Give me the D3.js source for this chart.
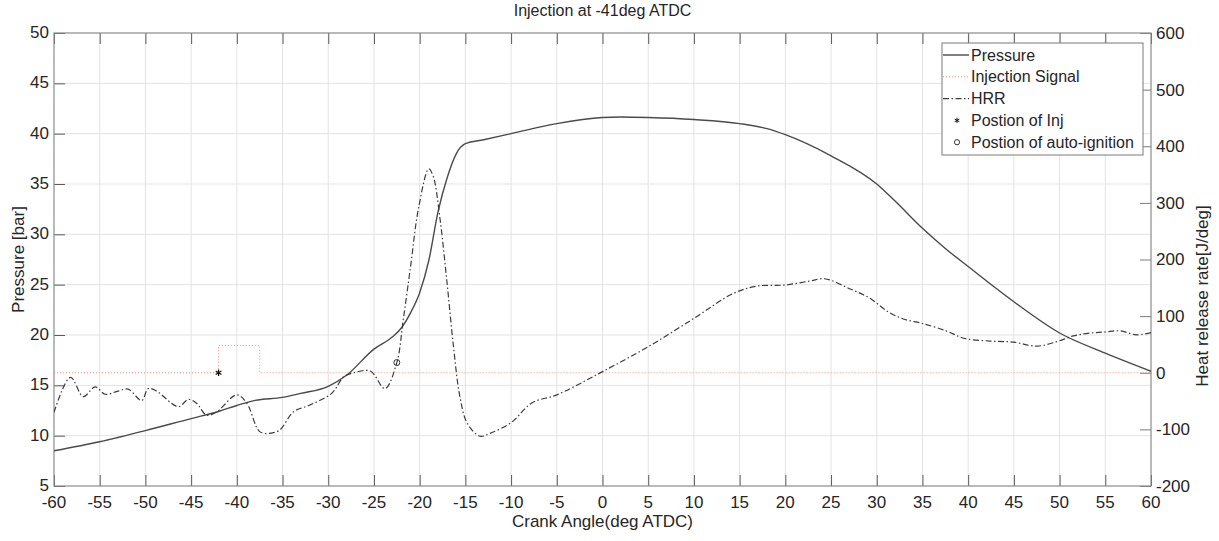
<!DOCTYPE html>
<html>
<head>
<meta charset="utf-8">
<script src="https://cdn.jsdelivr.net/npm/d3@7"></script>
<style>
  body { margin: 0; background: #fff; }
  text { font-family: "Liberation Sans", Arial, sans-serif; fill: #262626; }
</style>
</head>
<body>
<script>
// pressure trace [bar]
var pAngle = [-60, -55, -50, -45, -42, -40, -38, -35, -33, -30, -28, -25, -23, -22, -21, -20, -19, -18, -17, -16, -15, -13, -10, -5, 0, 2, 5, 10, 15, 18, 20, 25, 30, 32, 35, 37.5, 40, 45, 50, 55, 60];
var pressure = [8.5, 9.4, 10.5, 11.7, 12.4, 13.0, 13.5, 13.8, 14.2, 14.9, 16.0, 18.6, 19.8, 20.7, 22.2, 24.2, 27.4, 32.2, 35.6, 38.0, 39.0, 39.4, 40.0, 41.0, 41.6, 41.65, 41.6, 41.4, 41.0, 40.5, 39.9, 37.8, 35.0, 33.3, 30.6, 28.6, 26.8, 23.3, 20.2, 18.2, 16.4];

// heat release rate [J/deg]
var hrrAngle = [-60, -58.2, -56.8, -55.5, -54.4, -53.1, -51.9, -50.4, -49.7, -48.8, -46.4, -45.3, -44.4, -43.3, -42.2, -40, -38.9, -37.5, -36.4, -35.3, -33.8, -32, -29.6, -28.3, -27.2, -25.4, -23.8, -22.5, -21.8, -21, -20.1, -19, -18.5, -17.8, -17, -16.3, -15.6, -14.8, -13.4, -12.3, -10, -7.7, -5, 0, 5, 10, 14.3, 16.9, 20, 22.7, 24.3, 27.1, 29.3, 31.2, 32.9, 35, 37.6, 39.5, 42.4, 45, 47.5, 49.7, 51.5, 53.3, 55, 56.6, 58.4, 60];
var hrr = [-70, -8, -42, -25, -38, -33, -29, -49, -28, -32, -60, -47, -54, -75, -69, -39, -54, -104, -107, -101, -69, -57, -36, -7, 0, 3, -28, 18, 93, 187, 293, 360, 346, 275, 158, 46, -42, -89, -112, -107, -88, -53, -39, 2, 46, 96, 140, 153, 155, 162, 166, 148, 131, 108, 95, 87, 74, 61, 56, 54, 47, 55, 65, 70, 72, 74, 67, 71];

// injection signal (plotted on the HRR axis)
var injAngle = [-60, -42, -42, -37.5, -37.5, 60];
var injSignal = [0, 0, 48, 48, 0, 0];

// markers
var injPos = [-42, 0];
var ignPos = [-22.5, 18];

var xTicks = d3.range(-60, 61, 5);
var yTicks = d3.range(5, 51, 5);
var y2Ticks = d3.range(-200, 601, 100);
var legendNames = ["Pressure", "Injection Signal", "HRR", "Postion of Inj", "Postion of auto-ignition"];

const w = 1219, h = 541;
const pLeft = 54, pRight = 1151, pTop = 33, pBottom = 486;

const svg = d3.select("body").append("svg")
    .attr("width", w)
    .attr("height", h);

var xScale = d3.scaleLinear().domain([-60, 60]).range([pLeft, pRight]);
var yScale = d3.scaleLinear().domain([5, 50]).range([pBottom, pTop]);
var y2Scale = d3.scaleLinear().domain([-200, 600]).range([pBottom, pTop]);

// grid
svg.append("g").selectAll("line").data(xTicks.slice(1, -1)).enter().append("line")
    .attr("x1", d => xScale(d)).attr("x2", d => xScale(d))
    .attr("y1", pTop).attr("y2", pBottom)
    .attr("stroke", "#e3e3e3").attr("stroke-width", 1);
svg.append("g").selectAll("line").data(yTicks.slice(1, -1)).enter().append("line")
    .attr("y1", d => yScale(d)).attr("y2", d => yScale(d))
    .attr("x1", pLeft).attr("x2", pRight)
    .attr("stroke", "#e3e3e3").attr("stroke-width", 1);

// axes (inward ticks, MATLAB style)
var tk = 11;
svg.append("g").attr("transform", "translate(" + pLeft + ",0)")
    .call(d3.axisRight(yScale).tickValues(yTicks).tickSize(tk).tickFormat(""))
    .call(g => g.select(".domain").remove())
    .call(g => g.selectAll("line").attr("stroke", "#5a5a5a"));
svg.append("g").attr("transform", "translate(" + pRight + ",0)")
    .call(d3.axisLeft(y2Scale).tickValues(y2Ticks).tickSize(tk).tickFormat(""))
    .call(g => g.select(".domain").remove())
    .call(g => g.selectAll("line").attr("stroke", "#7a7a7a"));
svg.append("g").attr("transform", "translate(0," + pBottom + ")")
    .call(d3.axisTop(xScale).tickValues(xTicks).tickSize(tk).tickFormat(""))
    .call(g => g.select(".domain").remove())
    .call(g => g.selectAll("line").attr("stroke", "#5a5a5a"));
svg.append("g").attr("transform", "translate(0," + pTop + ")")
    .call(d3.axisBottom(xScale).tickValues(xTicks).tickSize(tk).tickFormat(""))
    .call(g => g.select(".domain").remove())
    .call(g => g.selectAll("line").attr("stroke", "#5a5a5a"));

// tick labels
svg.append("g").selectAll("text").data(yTicks).enter().append("text")
    .attr("x", pLeft - 5).attr("y", d => yScale(d)).attr("dy", "0.3em")
    .attr("text-anchor", "end").attr("font-size", 17).text(d => d);
svg.append("g").selectAll("text").data(y2Ticks).enter().append("text")
    .attr("x", pRight + 5).attr("y", d => y2Scale(d)).attr("dy", "0.35em")
    .attr("text-anchor", "start").attr("font-size", 17).text(d => d);
svg.append("g").selectAll("text").data(xTicks).enter().append("text")
    .attr("x", d => xScale(d)).attr("y", pBottom + 22)
    .attr("text-anchor", "middle").attr("font-size", 17).text(d => d);

// box
svg.append("rect").attr("x", pLeft).attr("y", pTop)
    .attr("width", pRight - pLeft).attr("height", pBottom - pTop)
    .attr("fill", "none").attr("stroke", "#8a8a8a").attr("stroke-width", 1.2);

// titles
svg.append("text").attr("x", (pLeft + pRight) / 2).attr("y", 16)
    .attr("text-anchor", "middle").attr("font-size", 16).text("Injection at -41deg ATDC");
svg.append("text").attr("x", (pLeft + pRight) / 2).attr("y", 527)
    .attr("text-anchor", "middle").attr("font-size", 17).text("Crank Angle(deg ATDC)");
svg.append("text").attr("transform", "translate(24," + ((pTop + pBottom) / 2) + ") rotate(-90)")
    .attr("text-anchor", "middle").attr("font-size", 17).text("Pressure [bar]");
svg.append("text").attr("transform", "translate(1208,296) rotate(-90)")
    .attr("text-anchor", "middle").attr("font-size", 17).text("Heat release rate[J/deg]");

// series
svg.append("clipPath").attr("id", "clip").append("rect")
    .attr("x", pLeft).attr("y", pTop).attr("width", pRight - pLeft).attr("height", pBottom - pTop);
var plot = svg.append("g").attr("clip-path", "url(#clip)");

var injLine = d3.line().x((d, i) => xScale(injAngle[i])).y(d => y2Scale(d));
plot.append("path").datum(injSignal).attr("d", injLine)
    .attr("fill", "none").attr("stroke", "#ef8f80").attr("stroke-width", 1)
    .attr("stroke-dasharray", "1,2");

var pLine = d3.line().x((d, i) => xScale(pAngle[i])).y(d => yScale(d)).curve(d3.curveMonotoneX);
plot.append("path").datum(pressure).attr("d", pLine)
    .attr("fill", "none").attr("stroke", "#4a4a4a").attr("stroke-width", 1.4);

var hLine = d3.line().x((d, i) => xScale(hrrAngle[i])).y(d => y2Scale(d)).curve(d3.curveCatmullRom.alpha(0.5));
plot.append("path").datum(hrr).attr("d", hLine)
    .attr("fill", "none").attr("stroke", "#3c3c3c").attr("stroke-width", 1.2)
    .attr("stroke-dasharray", "6,2.5,1.5,2.5");

var starType = d3.symbolAsterisk || d3.symbolCross;
plot.append("path").attr("d", d3.symbol().type(starType).size(30))
    .attr("transform", "translate(" + xScale(injPos[0]) + "," + y2Scale(injPos[1]) + ")")
    .attr("fill", "none").attr("stroke", "#111").attr("stroke-width", 1.2);
plot.append("circle").attr("cx", xScale(ignPos[0])).attr("cy", y2Scale(ignPos[1])).attr("r", 3)
    .attr("fill", "none").attr("stroke", "#333").attr("stroke-width", 1);

// legend
var lg = svg.append("g").attr("transform", "translate(942,43)");
lg.append("rect").attr("width", 201).attr("height", 112)
    .attr("fill", "#fff").attr("stroke", "#7a7a7a").attr("stroke-width", 1);
var rows = lg.selectAll("g.row").data(legendNames).enter().append("g")
    .attr("transform", (d, i) => "translate(0," + (12 + i * 21.8) + ")");
rows.append("text").attr("x", 29).attr("dy", "0.35em").attr("font-size", 16).text(d => d);
rows.filter((d, i) => i === 0).append("line").attr("x1", 1).attr("x2", 27)
    .attr("stroke", "#4a4a4a").attr("stroke-width", 1.4);
rows.filter((d, i) => i === 1).append("line").attr("x1", 1).attr("x2", 27)
    .attr("stroke", "#ef8f80").attr("stroke-width", 1).attr("stroke-dasharray", "1,2");
rows.filter((d, i) => i === 2).append("line").attr("x1", 1).attr("x2", 27)
    .attr("stroke", "#3c3c3c").attr("stroke-width", 1.2).attr("stroke-dasharray", "6,2.5,1.5,2.5");
rows.filter((d, i) => i === 3).append("path").attr("d", d3.symbol().type(starType).size(20))
    .attr("transform", "translate(15,0)").attr("fill", "none").attr("stroke", "#111").attr("stroke-width", 1);
rows.filter((d, i) => i === 4).append("circle").attr("cx", 15).attr("r", 2.6)
    .attr("fill", "none").attr("stroke", "#333").attr("stroke-width", 1);
</script>
</body>
</html>
